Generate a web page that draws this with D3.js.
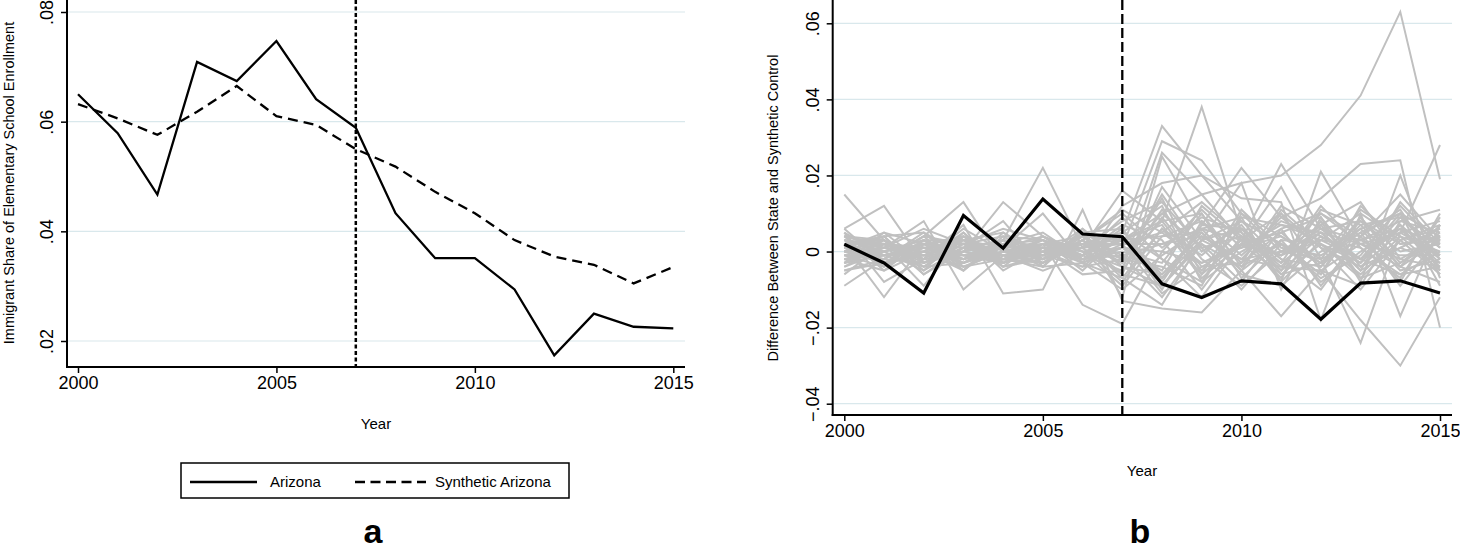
<!DOCTYPE html>
<html>
<head>
<meta charset="utf-8">
<script src="https://cdn.jsdelivr.net/npm/d3@7/dist/d3.min.js"></script>
<style>
  html, body { margin: 0; padding: 0; background: #fff; }
  svg { display: block; font-family: "Liberation Sans", Arial, Helvetica, sans-serif; }
</style>
</head>
<body>
<svg id="chart" width="1460" height="552"></svg>
<script>
// ---------------- DATA ----------------
const years = [2000,2001,2002,2003,2004,2005,2006,2007,2008,2009,2010,2011,2012,2013,2014,2015];
const treatmentYear = 2007;

// Panel a
const arizona = [0.0650,0.0579,0.0467,0.0709,0.0674,0.0747,0.0641,0.0589,0.0433,0.0351,0.0351,0.0294,0.0174,0.0250,0.0226,0.0223];
const syntheticArizona = [0.0632,0.0606,0.0576,0.0618,0.0665,0.0610,0.0594,0.0550,0.0518,0.0472,0.0433,0.0384,0.0354,0.0339,0.0305,0.0335];
const leftYTicks = [0.02,0.04,0.06,0.08];
const leftYTickLabels = [".02",".04",".06",".08"];
const xTicks = [2000,2005,2010,2015];

// Panel b: Arizona gap (black) and placebo gaps (grey)
const arizonaGap = [0.0019,-0.0030,-0.0109,0.0095,0.0009,0.0138,0.0046,0.0039,-0.0085,-0.0121,-0.0077,-0.0085,-0.0178,-0.0083,-0.0077,-0.0109];
const placeboGaps = [
  [0.002,-0.001,0.001,-0.002,0.000,0.001,-0.001,0.003,0.010,0.015,0.018,0.020,0.028,0.041,0.063,0.019],
  [0.015,0.003,-0.004,0.002,-0.001,0.000,0.002,0.005,0.033,0.020,0.008,0.002,-0.003,0.005,0.010,0.004],
  [-0.009,-0.002,0.004,0.013,-0.003,0.001,-0.002,0.001,0.029,0.024,0.010,0.000,0.005,0.002,-0.004,0.003],
  [0.006,0.012,-0.003,0.000,0.013,0.004,-0.001,-0.005,0.026,0.015,0.003,0.023,0.006,-0.002,0.006,-0.004],
  [0.002,-0.012,0.002,-0.005,0.003,0.022,0.001,0.016,0.008,0.038,0.005,-0.008,0.021,0.003,0.008,0.011],
  [-0.003,0.001,0.008,-0.010,-0.001,0.002,-0.014,-0.019,0.000,-0.003,0.002,0.017,-0.002,-0.024,0.005,0.028],
  [0.005,-0.008,-0.002,0.007,-0.011,-0.010,0.011,-0.013,-0.015,-0.016,-0.005,-0.017,-0.005,-0.018,-0.030,-0.012],
  [0.000,0.004,-0.006,0.001,0.008,-0.004,0.005,-0.012,0.025,0.007,0.022,0.009,0.014,0.023,0.024,-0.020],
  [0.004,-0.005,0.003,-0.003,0.001,0.010,-0.003,0.012,0.018,0.020,0.014,0.013,-0.018,0.010,-0.017,0.007],
  [-0.006,0.002,-0.009,0.004,-0.004,-0.002,0.003,-0.007,-0.014,0.003,0.018,-0.010,0.009,-0.008,0.020,-0.007],
  [0.003,0.001,-0.002,0.000,0.002,-0.001,0.001,0.002,0.005,-0.003,0.001,0.004,-0.002,0.003,0.006,0.002],
  [-0.002,0.000,0.003,-0.001,-0.003,0.002,0.000,-0.004,-0.006,0.004,-0.002,0.000,0.007,-0.005,0.001,-0.003],
  [0.001,-0.003,0.000,0.004,-0.001,0.000,0.002,0.003,0.008,-0.005,0.006,-0.002,-0.004,0.009,-0.003,0.005],
  [-0.004,0.002,-0.001,-0.002,0.003,0.001,-0.002,0.000,-0.003,0.010,-0.007,0.003,0.002,-0.006,0.004,0.000],
  [0.005,-0.001,0.002,0.003,-0.002,-0.003,0.004,-0.001,0.002,0.006,0.009,-0.008,0.003,0.001,-0.007,0.009],
  [0.000,0.003,-0.004,-0.003,0.000,0.003,-0.005,0.005,0.012,-0.008,0.000,0.006,-0.009,0.004,0.011,-0.005],
  [-0.001,-0.004,0.001,0.002,0.004,-0.002,0.003,-0.006,-0.009,0.002,-0.004,0.010,0.001,-0.010,0.003,0.006],
  [0.002,0.004,0.005,-0.004,-0.002,0.001,-0.001,0.007,0.003,-0.010,0.004,-0.005,0.011,0.007,-0.004,-0.008],
  [-0.005,-0.002,-0.003,0.001,0.001,-0.004,0.006,-0.002,0.010,0.001,-0.010,0.002,-0.006,0.012,0.002,0.003],
  [0.003,0.000,-0.005,0.005,-0.004,0.004,-0.003,0.001,-0.005,0.012,0.003,-0.003,0.005,-0.003,0.009,-0.001],
  [-0.003,0.005,0.002,-0.002,0.002,0.000,0.001,-0.008,0.006,-0.006,0.011,0.001,-0.001,0.005,-0.009,0.004],
  [0.001,-0.002,0.004,-0.005,0.005,-0.001,-0.004,0.004,-0.010,0.008,-0.001,0.008,0.004,-0.002,0.007,-0.006],
  [0.004,0.002,-0.003,0.003,-0.003,0.002,0.002,-0.003,0.015,0.000,0.007,-0.006,-0.003,0.008,0.000,0.002],
  [-0.002,-0.005,0.000,-0.001,-0.001,-0.005,-0.001,0.009,-0.002,-0.012,0.002,0.005,0.009,-0.004,0.005,0.008],
  [0.000,0.001,0.006,0.002,0.006,0.003,0.000,-0.009,0.004,0.005,-0.006,-0.009,0.000,0.006,-0.005,-0.002],
  [0.006,-0.003,-0.001,-0.004,0.000,-0.002,0.005,0.006,-0.007,0.003,0.008,0.002,-0.007,-0.001,0.012,0.001],
  [-0.001,0.002,-0.002,0.005,-0.005,0.001,-0.006,-0.005,0.009,-0.004,-0.003,0.012,0.006,0.003,-0.002,-0.004],
  [0.002,-0.001,0.001,-0.003,0.003,-0.003,0.003,0.010,0.001,0.009,0.005,-0.004,-0.005,-0.009,0.008,0.005],
  [-0.003,0.003,-0.006,0.000,0.002,0.005,-0.002,-0.001,-0.012,0.002,-0.008,0.006,0.010,0.002,-0.001,-0.001],
  [0.001,0.000,0.002,0.001,-0.002,-0.001,0.004,0.003,0.007,-0.007,0.002,-0.001,0.003,0.010,0.003,0.007],
  [0.003,-0.004,0.003,-0.002,0.001,0.002,-0.003,-0.010,-0.001,0.006,-0.005,0.003,-0.008,0.000,0.006,-0.003],
  [-0.002,0.001,-0.001,0.003,0.005,-0.002,0.001,0.008,0.013,0.001,0.004,-0.007,0.008,-0.007,-0.003,0.003],
  [0.000,-0.002,0.005,-0.001,-0.003,0.000,-0.004,-0.002,-0.004,-0.009,0.010,0.004,-0.003,0.006,0.010,-0.009],
  [0.004,0.003,-0.002,0.006,0.000,-0.003,0.002,0.002,0.002,0.004,-0.002,0.009,0.001,-0.004,0.001,0.006],
  [-0.001,-0.001,0.000,-0.005,0.004,0.003,-0.001,0.006,-0.008,0.007,0.006,-0.003,0.012,0.001,-0.006,0.000],
  [0.001,0.005,-0.003,0.002,-0.004,-0.001,0.006,-0.004,0.011,-0.002,-0.009,0.000,-0.002,0.011,0.004,-0.005],
  [-0.004,0.000,0.003,0.003,0.001,0.004,0.000,0.001,0.000,0.011,0.001,0.007,0.005,-0.005,0.013,0.002],
  [0.002,-0.003,-0.001,0.000,-0.002,-0.004,-0.003,-0.007,0.006,-0.001,0.008,-0.002,-0.010,0.004,-0.008,0.010],
  [0.000,0.002,0.001,-0.002,0.003,0.001,0.001,0.004,-0.006,0.005,-0.005,0.011,0.002,-0.003,0.007,-0.002],
  [-0.002,-0.001,-0.004,0.004,-0.001,-0.003,0.003,-0.003,0.014,-0.006,0.003,-0.001,0.006,0.008,0.002,0.004],
  [0.003,0.002,0.001,-0.001,0.002,0.003,-0.002,0.003,0.004,0.008,-0.003,0.005,-0.004,0.007,0.009,0.001],
  [-0.005,-0.003,0.002,0.001,-0.002,0.002,0.004,-0.004,-0.009,0.003,0.006,-0.005,0.004,-0.002,-0.006,-0.004],
  [0.002,0.003,-0.002,-0.001,0.001,-0.002,0.003,0.011,0.005,0.013,0.004,-0.001,0.010,0.004,0.015,0.003],
  [-0.001,-0.002,0.004,0.002,-0.003,0.001,-0.003,0.002,-0.011,-0.004,0.002,-0.006,0.002,-0.007,0.003,-0.006],
  [0.004,0.001,0.000,-0.003,0.002,-0.001,0.002,-0.002,0.008,0.010,-0.004,0.002,-0.006,0.009,-0.004,0.007],
  [-0.003,-0.001,0.002,0.004,-0.002,0.003,-0.001,0.005,-0.002,-0.008,0.009,0.007,0.003,-0.002,0.010,-0.002],
  [0.001,0.004,-0.005,0.001,0.003,-0.002,0.001,-0.006,0.017,0.003,-0.002,-0.004,0.007,0.013,-0.002,0.004],
  [0.000,-0.003,0.003,-0.004,0.000,0.002,-0.002,0.001,-0.007,0.006,0.003,0.010,-0.005,0.002,0.005,-0.001]
];
const rightYTicks = [-0.04,-0.02,0,0.02,0.04,0.06];
const rightYTickLabels = ["\u2212.04","\u2212.02","0",".02",".04",".06"];

const legendLabels = ["Arizona","Synthetic Arizona"];
const panelLabels = ["a","b"];
const xTitle = "Year";
const leftYTitle = "Immigrant Share of Elementary School Enrollment";
const rightYTitle = "Difference Between State and Synthetic Control";

// ---------------- DRAW ----------------
const svg = d3.select("#chart");
const gridColor = "#d9e8ec";

function panel(opts) {
  const g = svg.append("g");
  const x = d3.scaleLinear().domain([2000, 2015]).range(opts.xRange);
  const y = d3.scaleLinear().domain(opts.yDomain).range(opts.yRange);

  // gridlines
  g.append("g").selectAll("line").data(opts.yTicks).join("line")
    .attr("x1", opts.axisX + 1).attr("x2", opts.plotRight)
    .attr("y1", d => y(d)).attr("y2", d => y(d))
    .attr("stroke", gridColor).attr("stroke-width", 1.2);

  // y axis
  const yAxis = d3.axisLeft(y).tickValues(opts.yTicks)
    .tickFormat((d, i) => opts.yTickLabels[i]).tickSize(6).tickPadding(4);
  const ya = g.append("g").attr("transform", `translate(${opts.axisX},0)`).call(yAxis);
  ya.select(".domain").remove();
  ya.selectAll(".tick line").attr("stroke", "#000").attr("stroke-width", 1.5);
  ya.selectAll(".tick text")
    .attr("font-size", 18).attr("fill", "#000")
    .attr("text-anchor", "middle")
    .attr("x", 0).attr("dy", null)
    .attr("transform", "translate(-20,0) rotate(-90)")
    .attr("dominant-baseline", "central");
  g.append("line").attr("x1", opts.axisX).attr("x2", opts.axisX)
    .attr("y1", 0).attr("y2", opts.axisY + 1)
    .attr("stroke", "#000").attr("stroke-width", 2);

  // x axis
  const xAxis = d3.axisBottom(x).tickValues(xTicks).tickFormat(d3.format("d")).tickSize(6).tickPadding(3);
  const xa = g.append("g").attr("transform", `translate(0,${opts.axisY})`).call(xAxis);
  xa.select(".domain").remove();
  xa.selectAll(".tick line").attr("stroke", "#000").attr("stroke-width", 1.5).attr("y1", 0);
  xa.selectAll(".tick text").attr("font-size", 18).attr("fill", "#000");
  g.append("line").attr("x1", opts.axisX - 1).attr("x2", opts.plotRight)
    .attr("y1", opts.axisY).attr("y2", opts.axisY)
    .attr("stroke", "#000").attr("stroke-width", 2);

  // titles
  g.append("text").attr("x", opts.xTitlePos[0]).attr("y", opts.xTitlePos[1])
    .attr("text-anchor", "middle").attr("font-size", 15).text(xTitle);
  g.append("text").attr("transform", `translate(${opts.yTitlePos[0]},${opts.yTitlePos[1]}) rotate(-90)`)
    .attr("text-anchor", "middle").attr("dominant-baseline", "central")
    .attr("font-size", 14.5).text(opts.yTitle);
  g.append("text").attr("x", opts.panelLabelPos[0]).attr("y", opts.panelLabelPos[1])
    .attr("text-anchor", "middle").attr("font-size", 34).attr("font-weight", "bold").text(opts.panelLabel);

  return {g, x, y};
}

// Panel a
const A = panel({
  xRange: [78, 673.3], yDomain: [0.02, 0.08], yRange: [341, 12],
  axisX: 67, axisY: 367, plotRight: 685,
  yTicks: leftYTicks, yTickLabels: leftYTickLabels,
  xTitlePos: [376, 429], yTitlePos: [9, 183], yTitle: leftYTitle,
  panelLabel: panelLabels[0], panelLabelPos: [373, 543]
});
A.g.append("line").attr("x1", A.x(treatmentYear)).attr("x2", A.x(treatmentYear))
  .attr("y1", 0).attr("y2", 367).attr("stroke", "#000").attr("stroke-width", 2.5)
  .attr("stroke-dasharray", "4,2.5");
const lineA = d3.line().x((d, i) => A.x(years[i])).y(d => A.y(d));
A.g.append("path").datum(syntheticArizona).attr("d", lineA).attr("fill", "none")
  .attr("stroke", "#000").attr("stroke-width", 2.3).attr("stroke-dasharray", "10,6");
A.g.append("path").datum(arizona).attr("d", lineA).attr("fill", "none")
  .attr("stroke", "#000").attr("stroke-width", 2.3).attr("stroke-linejoin", "miter");

// Legend
const leg = svg.append("g");
leg.append("rect").attr("x", 181).attr("y", 463).attr("width", 388).attr("height", 35)
  .attr("fill", "#fff").attr("stroke", "#000").attr("stroke-width", 1.5);
leg.append("line").attr("x1", 190).attr("x2", 257).attr("y1", 482).attr("y2", 482)
  .attr("stroke", "#000").attr("stroke-width", 2.3);
leg.append("line").attr("x1", 355).attr("x2", 426).attr("y1", 482).attr("y2", 482)
  .attr("stroke", "#000").attr("stroke-width", 2.3).attr("stroke-dasharray", "10,5.5");
leg.append("text").attr("x", 270).attr("y", 487).attr("font-size", 15).text(legendLabels[0]);
leg.append("text").attr("x", 435).attr("y", 487).attr("font-size", 15).text(legendLabels[1]);

// Panel b
const B = panel({
  xRange: [844.3, 1440], yDomain: [-0.04, 0.06], yRange: [403.7, 23.3],
  axisX: 832.7, axisY: 415, plotRight: 1452,
  yTicks: rightYTicks, yTickLabels: rightYTickLabels,
  xTitlePos: [1142, 476], yTitlePos: [773, 208], yTitle: rightYTitle,
  panelLabel: panelLabels[1], panelLabelPos: [1140, 543]
});
const lineB = d3.line().x((d, i) => B.x(years[i])).y(d => B.y(d));
B.g.append("g").selectAll("path").data(placeboGaps).join("path")
  .attr("d", lineB).attr("fill", "none").attr("stroke", "#c0c0c0").attr("stroke-width", 2);
B.g.append("line").attr("x1", B.x(treatmentYear)).attr("x2", B.x(treatmentYear))
  .attr("y1", 0).attr("y2", 415).attr("stroke", "#000").attr("stroke-width", 2.3)
  .attr("stroke-dasharray", "10,4");
B.g.append("path").datum(arizonaGap).attr("d", lineB).attr("fill", "none")
  .attr("stroke", "#000").attr("stroke-width", 3.2);
</script>
</body>
</html>
